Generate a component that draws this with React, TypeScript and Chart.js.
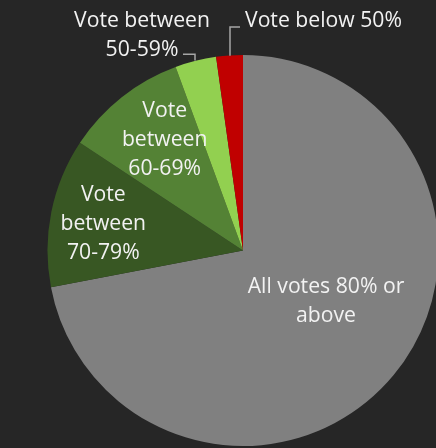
import React, { useEffect, useRef } from "react";
import { Chart, registerables } from "chart.js";

Chart.register(...registerables);

const categories = [
  "All votes 80% or above",
  "Vote between 70-79%",
  "Vote between 60-69%",
  "Vote between 50-59%",
  "Vote below 50%",
];
const values = [72.0, 12.3, 10.1, 3.4, 2.2];
const colors = ["#808080", "#385723", "#548235", "#92D050", "#C00000"];

// label lines per slice
const labelLines = [
  ["All votes 80% or", "above"],
  ["Vote", "between", "70-79%"],
  ["Vote", "between", "60-69%"],
  ["Vote between", "50-59%"],
  ["Vote below 50%"],
];
// anchor (x, first baseline) relative to pie center, in radius units
const labelAnchors = [
  { dx: 0.4246, dy: 0.219, align: "center" },
  { dx: -0.7146, dy: -0.2547, align: "center" },
  { dx: -0.4005, dy: -0.684, align: "center" },
  { dx: -0.5166, dy: -1.1448, align: "center" },
  { dx: 0.0102, dy: -1.1448, align: "left" },
];
// leader lines in radius units (for outside labels)
const leaders: Record<number, number[][]> = {
  3: [[-0.307, -1.0036], [-0.2455, -1.0036], [-0.2455, -0.972]],
  4: [[-0.0153, -1.1432], [-0.0665, -1.1432], [-0.0665, -0.996]],
};

const labelPlugin = {
  id: "sliceLabels",
  afterDatasetsDraw(chart: any) {
    const meta = chart.getDatasetMeta(0);
    const arc = meta.data[0];
    if (!arc) return;
    const cx = arc.x;
    const cy = arc.y;
    const r = arc.outerRadius;
    const ctx = chart.ctx;
    ctx.save();
    ctx.strokeStyle = "#a6a6a6";
    ctx.lineWidth = 1.5;
    Object.keys(leaders).forEach((k) => {
      const pts = leaders[Number(k)];
      ctx.beginPath();
      pts.forEach((p, i) => {
        const x = cx + p[0] * r;
        const y = cy + p[1] * r;
        if (i === 0) ctx.moveTo(x, y);
        else ctx.lineTo(x, y);
      });
      ctx.stroke();
    });
    ctx.fillStyle = "#f2f2f2";
    ctx.font = '21.2px "Open Sans"';
    ctx.textBaseline = "alphabetic";
    labelLines.forEach((lines, i) => {
      const a = labelAnchors[i];
      ctx.textAlign = a.align;
      const x = cx + a.dx * r;
      const y0 = cy + a.dy * r;
      lines.forEach((t, j) => {
        ctx.fillText(t, x, y0 + j * 29);
      });
    });
    ctx.restore();
  },
};

export default function App() {
  const ref = useRef<HTMLCanvasElement>(null);
  useEffect(() => {
    if (!ref.current) return;
    const chart = new Chart(ref.current, {
      type: "pie",
      data: {
        labels: categories,
        datasets: [
          {
            data: values,
            backgroundColor: colors,
            borderWidth: 0,
          },
        ],
      },
      options: {
        responsive: false,
        animation: false,
        layout: { padding: { left: 47.5, top: 55, right: 21.5, bottom: 2 } },
        plugins: {
          legend: { display: false },
          tooltip: { enabled: false },
          title: { display: false },
        },
      },
      plugins: [labelPlugin],
    });
    return () => chart.destroy();
  }, []);
  return (
    <div
      style={{
        position: "fixed",
        left: 0,
        top: 0,
        width: 436,
        height: 448,
        overflow: "hidden",
        background: "#262626",
      }}
    >
      <canvas ref={ref} width={460} height={448} style={{ display: "block" }} />
    </div>
  );
}
